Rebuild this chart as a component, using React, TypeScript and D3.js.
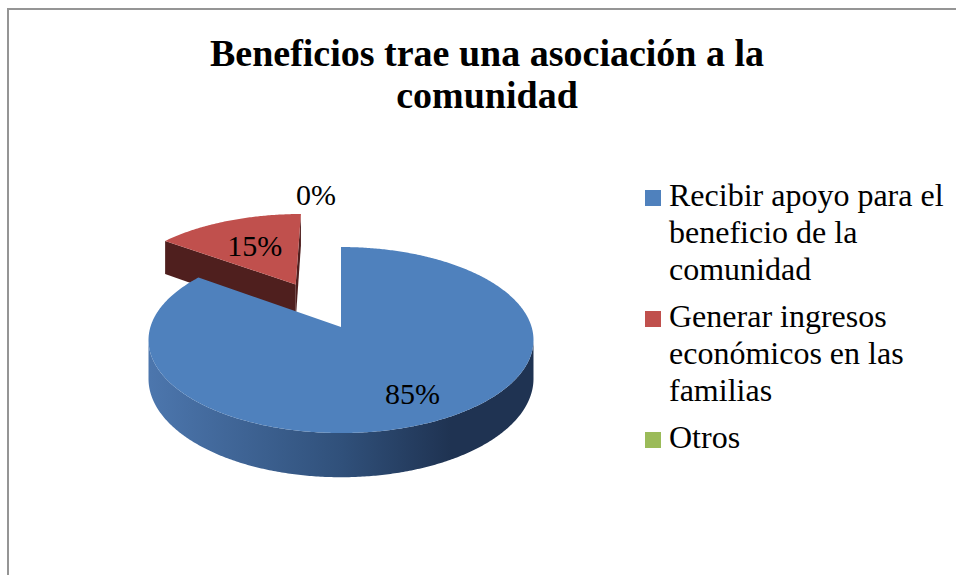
import React from "react";
import * as d3 from "d3";

// chart data
const title = ["Beneficios trae una asociación a la", "comunidad"];
const categories = [
  "Recibir apoyo para el beneficio de la comunidad",
  "Generar ingresos económicos en las familias",
  "Otros",
];
const legendLines = [
  ["Recibir apoyo para el", "beneficio de la", "comunidad"],
  ["Generar ingresos", "económicos en las", "familias"],
  ["Otros"],
];
const values = [85, 15, 0];
const valueLabels = ["85%", "15%", "0%"];
const colors = ["#4f81bd", "#c0504d", "#9bbb59"];
const darkColors = ["#1f3352", "#4f1f1e", "#4f6228"];

const W = 956;
const H = 575;
const FONT = "Liberation Serif, Times New Roman, DejaVu Serif, serif";

// 3d pie projection
const CX = 341, CY = 327, RX = 190.6, RY = 91.2, PERSP = 0.14, DEPTH = 38;
const explode = [0, 0.56, 0];
const labelR = [0.75, 0.58, 1.82];
const labelDx = [0, 0, -25];

type P = { x: number; y: number; h: number };

function project(x: number, z: number): P {
  const k = 1 / (1 - PERSP * z);
  return { x: CX + RX * x * k, y: CY + RY * z * k, h: DEPTH * k };
}

const line = d3.line<[number, number]>();
const poly = (pts: P[]) => line(pts.map(p => [p.x, p.y] as [number, number])) + "Z";
const down = (p: P): P => ({ x: p.x, y: p.y + p.h, h: p.h });

const arcs = d3.pie<number>().sort(null).value(d => d)(values);

function buildSlice(i: number) {
  const a = arcs[i];
  const a0 = a.startAngle, a1 = a.endAngle;
  const mid = (a0 + a1) / 2;
  const off = { x: explode[i] * Math.sin(mid), z: -explode[i] * Math.cos(mid) };
  const at = (r: number, ang: number) =>
    project(off.x + r * Math.sin(ang), off.z - r * Math.cos(ang));
  const lab = at(labelR[i], mid);
  const label = { x: lab.x + labelDx[i], y: lab.y, text: valueLabels[i] };
  const shapes: { d: string; fill: string }[] = [];
  if (a1 - a0 <= 0) return { z: off.z, shapes, label };

  const n = Math.max(2, Math.ceil((a1 - a0) / 0.01));
  const rim = d3.range(n + 1).map(j => at(1, a0 + ((a1 - a0) * j) / n));
  const V = at(0, 0);

  // radial faces
  [
    { P: rim[0], M: at(0.5, a0 + 0.2) },
    { P: rim[n], M: at(0.5, a1 - 0.2) },
  ].forEach(({ P: p, M }) => {
    const dx = p.x - V.x, dy = p.y - V.y;
    if (Math.abs(dx) < 1) return;
    const cross = dx * (M.y - V.y) - dy * (M.x - V.x);
    if (Math.sign(cross) !== Math.sign(dx)) {
      shapes.push({ d: poly([V, p, down(p), down(V)]), fill: darkColors[i] });
    }
  });

  // outer wall, only where it faces the viewer
  let run: P[] = [];
  const flush = () => {
    if (run.length > 1) {
      shapes.push({
        d: poly([...run, ...run.slice().reverse().map(down)]),
        fill: i === 0 ? "url(#blueSide)" : darkColors[i],
      });
    }
    run = [];
  };
  for (let j = 0; j < n; j++) {
    if (rim[j + 1].x < rim[j].x) {
      if (run.length === 0) run.push(rim[j]);
      run.push(rim[j + 1]);
    } else flush();
  }
  flush();

  shapes.push({ d: poly([V, ...rim]), fill: colors[i] });
  return { z: off.z, shapes, label };
}

const slices = values.map((_, i) => buildSlice(i));
const order = d3.range(slices.length).sort((a, b) => slices[a].z - slices[b].z);

// legend layout
const LEG_X = 645, LEG_TEXT_X = 669, LEG_Y0 = 206, LINE_H = 37, GROUP_GAP = 10;
const legendY: number[] = [];
let ly = LEG_Y0;
legendLines.forEach(lines => {
  legendY.push(ly);
  ly += lines.length * LINE_H + GROUP_GAP;
});

const txt = { fontFamily: FONT };

export default function App() {
  return (
    <svg
      width={W}
      height={H}
      style={{ position: "absolute", left: 0, top: 0, background: "#fff", fontFamily: FONT }}
    >
      <defs>
        <linearGradient id="blueSide" gradientUnits="userSpaceOnUse" x1={150} x2={535} y1={0} y2={0}>
          <stop offset="0" stopColor="#4c76ad" />
          <stop offset="0.5" stopColor="#30507a" />
          <stop offset="0.78" stopColor="#1f3352" />
          <stop offset="1" stopColor="#1f3352" />
        </linearGradient>
      </defs>
      <rect x={8} y={9} width={1000} height={700} fill="#fff" stroke="#959595" strokeWidth={2} />

      {title.map((t, i) => (
        <text key={i} x={487} y={66 + i * 42} textAnchor="middle" fontSize={38} fontWeight="bold" style={txt}>
          {t}
        </text>
      ))}

      {order.map(i => (
        <g key={i}>
          {slices[i].shapes.map((s, k) => (
            <path key={k} d={s.d} fill={s.fill} />
          ))}
        </g>
      ))}

      {slices.map((s, i) => (
        <text key={i} x={s.label.x} y={s.label.y + 10} textAnchor="middle" fontSize={30} fill="#000" style={txt}>
          {s.label.text}
        </text>
      ))}

      {categories.map((c, i) => (
        <g key={c}>
          <rect x={LEG_X} y={legendY[i] - 16} width={16} height={16} fill={colors[i]} />
          {legendLines[i].map((t, k) => (
            <text key={k} x={LEG_TEXT_X} y={legendY[i] + k * LINE_H} fontSize={32} fill="#000" style={txt}>
              {t}
            </text>
          ))}
        </g>
      ))}
    </svg>
  );
}
